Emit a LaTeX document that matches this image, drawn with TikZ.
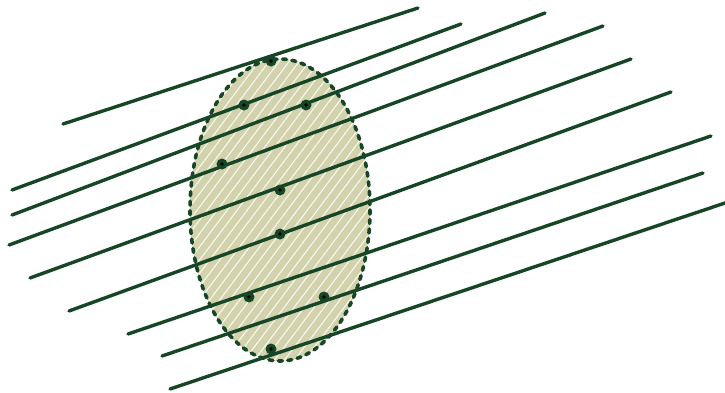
\documentclass[tikz,border=0pt]{standalone}
\usetikzlibrary{patterns.meta}
\definecolor{lg}{RGB}{22,70,38}
\definecolor{fillc}{RGB}{210,210,172}
\begin{document}
\begin{tikzpicture}[x=1pt,y=-1pt,
 ray/.style={draw=lg,line width=3.4pt,line cap=round},
 pt/.style={circle,fill=lg,inner sep=0pt,minimum size=11pt,
   path picture={\fill[black] (path picture bounding box.center) circle (1.8pt);}},
 regionfill/.style={fill=fillc,
   postaction={pattern={Lines[angle=53,distance=8pt,line width=1.1pt]},pattern color=white!85!fillc}},
 regionborder/.style={draw=lg,line width=3.6pt,line cap=round,dash pattern=on 4pt off 5.5pt}]
\useasboundingbox (0,0) rectangle (725,392);
\path[regionfill] (280,210) ellipse [x radius=90, y radius=151];
\draw[regionborder] (280,210) ellipse [x radius=90, y radius=151];
% ray endpoints
\coordinate (a1) at (63,124);  \coordinate (b1) at (418,8);
\coordinate (a2) at (12,190);  \coordinate (b2) at (461,24);
\coordinate (a3) at (12,215);  \coordinate (b3) at (545,13);
\coordinate (a4) at (9,245);   \coordinate (b4) at (603,26);
\coordinate (a5) at (30,278);  \coordinate (b5) at (631,59);
\coordinate (a6) at (69,311);  \coordinate (b6) at (671,92);
\coordinate (a7) at (128,334); \coordinate (b7) at (711,136);
\coordinate (a8) at (162,356); \coordinate (b8) at (703,173);
\coordinate (a9) at (170,389); \coordinate (b9) at (728,202);
\foreach \i in {1,...,9} {\draw[ray] (a\i) -- (b\i);}
% points
\node[pt] (p1) at (271,61) {};
\node[pt] (p2) at (244,105) {};
\node[pt] (p3) at (306,105) {};
\node[pt] (p4) at (222,164) {};
\node[pt] (p5) at (280,190) {};
\node[pt] (p6) at (280,234) {};
\node[pt] (p7) at (249,297) {};
\node[pt] (p8) at (324,297) {};
\node[pt] (p9) at (271,349) {};
\end{tikzpicture}
\end{document}
